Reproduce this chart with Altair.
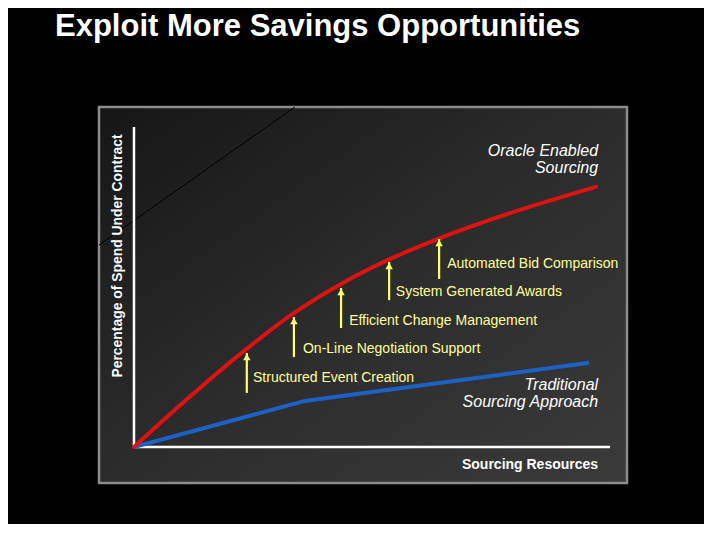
import altair as alt
import pandas as pd

# scale domains (data units)
X_MIN, X_MAX = -7.35, 103.57
Y_MIN, Y_MAX = -11.25, 106.25

# Oracle Enabled Sourcing curve
red_x = [0, 11.76, 23.53, 33.40, 43.49, 53.36, 63.66, 80.46, 97.06]
red_y = [0, 15.75, 30.5, 41.66, 50.97, 58.47, 64.91, 73.78, 81.31]
# Traditional Sourcing Approach
blue_x = [0, 35.9, 95.6]
blue_y = [0, 14.4, 26.3]

# step annotations
step_labels = ["Structured Event Creation", "On-Line Negotiation Support",
               "Efficient Change Management", "System Generated Awards",
               "Automated Bid Comparison"]
arrow_x = [23.7, 33.6, 43.5, 53.6, 64.1]
arrow_tip = [29.4, 40.6, 49.7, 57.8, 65.0]
arrow_base = [16.9, 28.1, 37.2, 45.9, 52.5]
label_x = [25.0, 35.5, 45.2, 55.0, 65.8]
label_y = [21.6, 30.6, 39.4, 48.4, 57.2]

# decorative diagonal line
diag_x = [X_MIN, 33.8]
diag_y = [63.1, Y_MAX]

FONT = "Liberation Sans"
W, H = 528, 376

xs = alt.Scale(domain=[X_MIN, X_MAX], nice=False, zero=False)
ys = alt.Scale(domain=[Y_MIN, Y_MAX], nice=False, zero=False)


def X(f):
    return alt.X(f, type="quantitative", scale=xs, axis=None)


def Y(f):
    return alt.Y(f, type="quantitative", scale=ys, axis=None)


bg_df = pd.DataFrame({"x": [X_MIN], "x2": [X_MAX], "y": [Y_MIN], "y2": [Y_MAX]})
bg = alt.Chart(bg_df).mark_rect(
    color=alt.Gradient(gradient="linear",
                       stops=[alt.GradientStop(color="#161616", offset=0),
                              alt.GradientStop(color="#2c2c2c", offset=0.5),
                              alt.GradientStop(color="#3a3a3a", offset=1)],
                       x1=0, y1=0, x2=1, y2=1),
    stroke="#8c8c8c", strokeWidth=2.5
).encode(x=X("x"), x2="x2", y=Y("y"), y2="y2")

diag = alt.Chart(pd.DataFrame({"x": diag_x, "y": diag_y})).mark_line(
    color="#000000", strokeWidth=1
).encode(x=X("x"), y=Y("y"))

axes_df = pd.DataFrame({"x": [0, 0], "x2": [0, 100], "y": [0, 0], "y2": [100, 0]})
axes = alt.Chart(axes_df).mark_rule(color="white", strokeWidth=2.5).encode(
    x=X("x"), x2="x2", y=Y("y"), y2="y2")

red = alt.Chart(pd.DataFrame({"x": red_x, "y": red_y})).mark_line(
    color="#df1212", strokeWidth=4, interpolate="monotone", strokeCap="round"
).encode(x=X("x"), y=Y("y"))

blue = alt.Chart(pd.DataFrame({"x": blue_x, "y": blue_y})).mark_line(
    color="#1c62c4", strokeWidth=4
).encode(x=X("x"), y=Y("y"))

arr_df = pd.DataFrame({"x": arrow_x, "tip": arrow_tip, "base": arrow_base})
shafts = alt.Chart(arr_df).mark_rule(color="#ffff70", strokeWidth=2.2).encode(
    x=X("x"), y=Y("base"), y2=alt.Y2("tip"))
heads = alt.Chart(arr_df).mark_point(
    shape="triangle-up", filled=True, color="#ffff70", size=55, opacity=1, yOffset=4
).encode(x=X("x"), y=Y("tip"))

lab_df = pd.DataFrame({"x": label_x, "y": label_y, "t": step_labels})
labels = alt.Chart(lab_df).mark_text(
    align="left", baseline="middle", font=FONT, fontSize=14, color="#ffff99"
).encode(x=X("x"), y=Y("y"), text="t")

note_df = pd.DataFrame({
    "x": [97.5, 97.5, 97.5, 97.5],
    "y": [92.5, 87.2, 19.4, 14.1],
    "t": ["Oracle Enabled", "Sourcing", "Traditional", "Sourcing Approach"],
})
notes = alt.Chart(note_df).mark_text(
    align="right", baseline="middle", font=FONT, fontSize=16,
    fontStyle="italic", color="white"
).encode(x=X("x"), y=Y("y"), text="t")

xt = alt.Chart(pd.DataFrame({"x": [97.5], "y": [-5.6], "t": ["Sourcing Resources"]})).mark_text(
    align="right", baseline="middle", font=FONT, fontSize=14,
    fontWeight="bold", color="white"
).encode(x=X("x"), y=Y("y"), text="t")

yt = alt.Chart(pd.DataFrame({"x": [-3.4], "y": [59.7], "t": ["Percentage of Spend Under Contract"]})).mark_text(
    align="center", baseline="middle", font=FONT, fontSize=13.9, angle=270,
    fontWeight="bold", color="white"
).encode(x=X("x"), y=Y("y"), text="t")

chart = alt.layer(bg, diag, axes, blue, red, shafts, heads, labels, notes, xt, yt).properties(
    width=W, height=H,
    title=alt.TitleParams("Exploit More Savings Opportunities", anchor="start",
                          frame="group", dx=-44, offset=38, baseline="alphabetic",
                          font=FONT, fontSize=31, fontWeight="bold", color="white"),
    autosize=alt.AutoSizeParams(type="none"),
    padding={"left": 91, "top": 99, "right": 77, "bottom": 41},
).configure(background="black").configure_view(stroke=None)

chart.save("out.html", embed_options={"renderer": "svg", "actions": False})
